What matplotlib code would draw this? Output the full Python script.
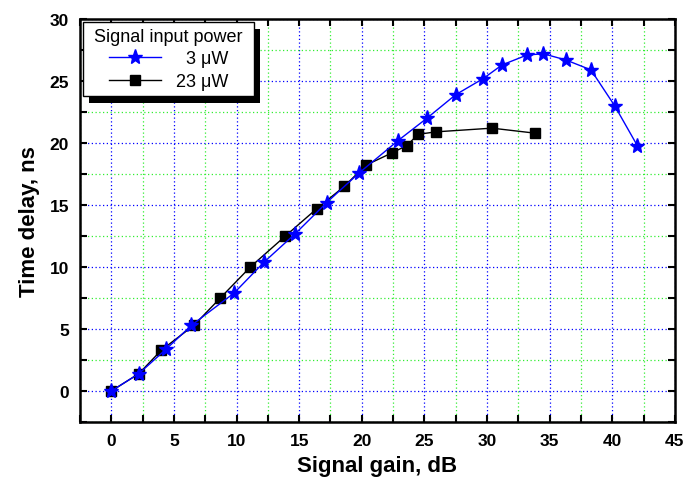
import matplotlib
matplotlib.use("Agg")
import matplotlib.pyplot as plt
from matplotlib.patches import Rectangle
from matplotlib.ticker import MultipleLocator

plt.rcParams['font.family'] = ['Liberation Sans', 'DejaVu Sans']

gain_3uw = [0, 2.2, 4.4, 6.4, 9.8, 12.2, 14.7, 17.2, 19.8, 22.9, 25.2, 27.5, 29.7, 31.2, 33.2, 34.5, 36.3, 38.3, 40.2, 42.0]
delay_3uw = [0, 1.4, 3.4, 5.3, 7.9, 10.4, 12.7, 15.2, 17.6, 20.2, 22.0, 23.9, 25.2, 26.3, 27.1, 27.2, 26.7, 25.9, 23.0, 19.8]

gain_23uw = [0, 2.2, 4.0, 6.6, 8.7, 11.1, 13.9, 16.4, 18.6, 20.3, 22.4, 23.6, 24.5, 25.9, 30.4, 33.8]
delay_23uw = [0, 1.4, 3.3, 5.3, 7.5, 10.0, 12.5, 14.7, 16.5, 18.2, 19.2, 19.8, 20.7, 20.9, 21.2, 20.8]

labels = ['  3 \u03bcW', '23 \u03bcW']
legend_title = 'Signal input power'
xlabel = 'Signal gain, dB'
ylabel = 'Time delay, ns'

fig = plt.figure(figsize=(6.9, 4.89), dpi=100)
ax = fig.add_axes([0.116, 0.135, 0.862, 0.824])

ax.plot(gain_3uw, delay_3uw, color='#0000ff', lw=1.0, marker='*', ms=11,
        mfc='#0000ff', mec='#0000ff', label=labels[0], zorder=4)
ax.plot(gain_23uw, delay_23uw, color='black', lw=1.0, marker='s', ms=7,
        mfc='black', mec='black', label=labels[1], zorder=3)

ax.set_xlim(-2.5, 45)
ax.set_ylim(-2.5, 30)
ax.xaxis.set_major_locator(MultipleLocator(5))
ax.xaxis.set_minor_locator(MultipleLocator(2.5))
ax.yaxis.set_major_locator(MultipleLocator(5))
ax.yaxis.set_minor_locator(MultipleLocator(2.5))

ax.grid(which='major', color='#0000ff', linestyle=(0, (1, 2)), lw=0.9)
ax.grid(which='minor', color='#33ee33', linestyle=(0, (1, 2)), lw=0.9)
ax.set_axisbelow(True)

ax.tick_params(which='both', direction='in', top=True, right=True,
               length=5, width=1.5)
ax.tick_params(which='major', labelsize=12.5, pad=8)
for lab in ax.get_xticklabels() + ax.get_yticklabels():
    lab.set_fontweight('bold')
for s in ax.spines.values():
    s.set_linewidth(1.8)

ax.set_xlabel(xlabel, fontsize=16, fontweight='bold', labelpad=5)
ax.set_ylabel(ylabel, fontsize=16, fontweight='bold', labelpad=7)

leg = ax.legend(loc='upper left', title=' ' + legend_title + ' ', fontsize=13,
                title_fontsize=13, frameon=True, fancybox=False,
                edgecolor='black', framealpha=1, handlelength=2.9,
                borderaxespad=0.15, labelspacing=0.3, borderpad=0.35)
leg.get_frame().set_linewidth(1.0)
leg.set_zorder(10)

fig.canvas.draw()
bb = leg.get_window_extent()
inv = ax.transAxes.inverted()
(x0, y0) = inv.transform((bb.x0 + 6, bb.y0 - 7))
(x1, y1) = inv.transform((bb.x1 + 6, bb.y1 - 7))
ax.add_patch(Rectangle((x0, y0), x1 - x0, y1 - y0, transform=ax.transAxes,
                       facecolor='black', edgecolor='none', zorder=9, clip_on=False))

fig.savefig('out.png', dpi=100)
